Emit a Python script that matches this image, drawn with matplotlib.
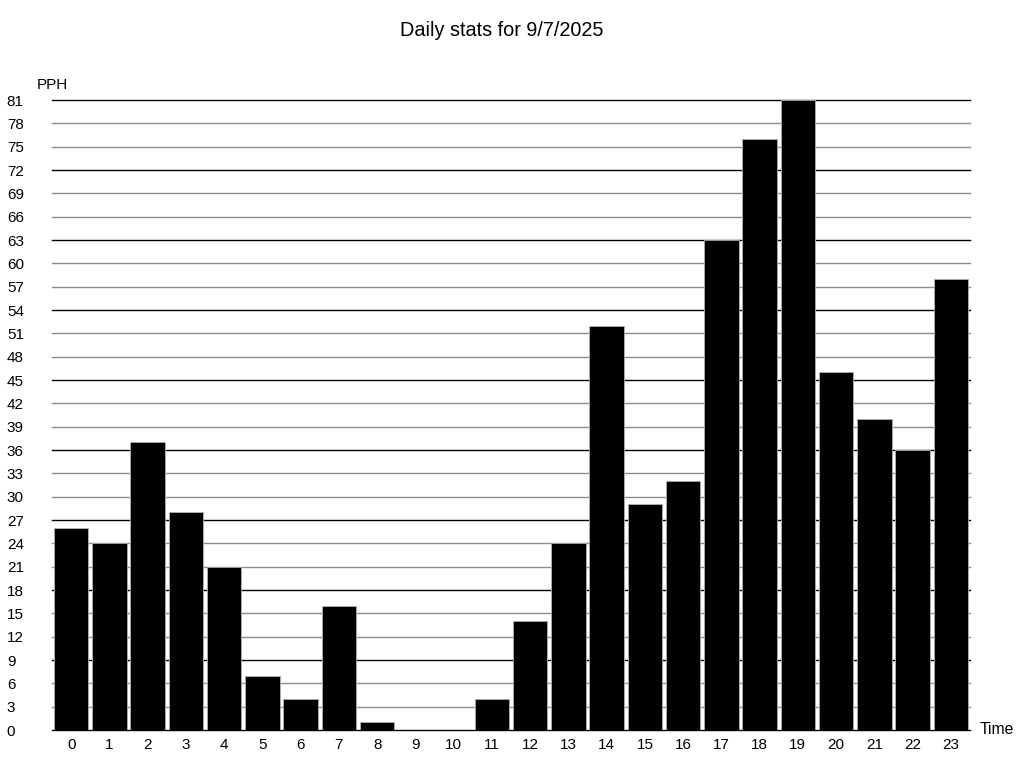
import matplotlib
matplotlib.use("Agg")
import matplotlib.pyplot as plt

plt.rcParams['font.family'] = ['Liberation Sans', 'DejaVu Sans']

hours = list(range(24))
pph = [26, 24, 37, 28, 21, 7, 4, 16, 1, 0, 0, 4, 14, 24,
       52, 29, 32, 63, 76, 81, 46, 40, 36, 58]
y_ticks = list(range(0, 82, 3))
title = "Daily stats for 9/7/2025"

fig = plt.figure(figsize=(10.24, 7.68), dpi=100)
W, H = 1024, 768
ax = fig.add_axes([52 / W, (H - 730) / H, (970 - 52) / W, (730 - 100) / H])

ax.bar(hours, pph, width=0.9, color='black', edgecolor='#b0b0b0', linewidth=0.6, zorder=3)

ax.set_xlim(-0.5, 23.5)
ax.set_ylim(0, 81)
ax.set_xticks(hours)
ax.set_xticklabels([str(h) for h in hours])
ax.set_yticks(y_ticks)
ax.set_yticklabels([str(v) for v in y_ticks])

# every third line is black, the others grey
for v in y_ticks:
    col = 'black' if v % 9 == 0 else '#8c8c8c'
    ax.axhline(v, color=col, linewidth=1.0, zorder=1, clip_on=False)

for s in ax.spines.values():
    s.set_visible(False)

ax.tick_params(axis='both', length=0, labelsize=11)
ax.tick_params(axis='x', pad=6)
ax.tick_params(axis='y', pad=32.5)
for lbl in ax.get_yticklabels():
    lbl.set_horizontalalignment('left')

fig.text(37 / W, 1 - 85 / H, "PPH", fontsize=11, ha='left', va='center')
fig.text(980 / W, 1 - 730 / H, "Time", fontsize=11.3, ha='left', va='center')
fig.text(0.49, 1 - 30 / H, title, fontsize=14.3, ha='center', va='center')

fig.savefig("out.png", dpi=100)
